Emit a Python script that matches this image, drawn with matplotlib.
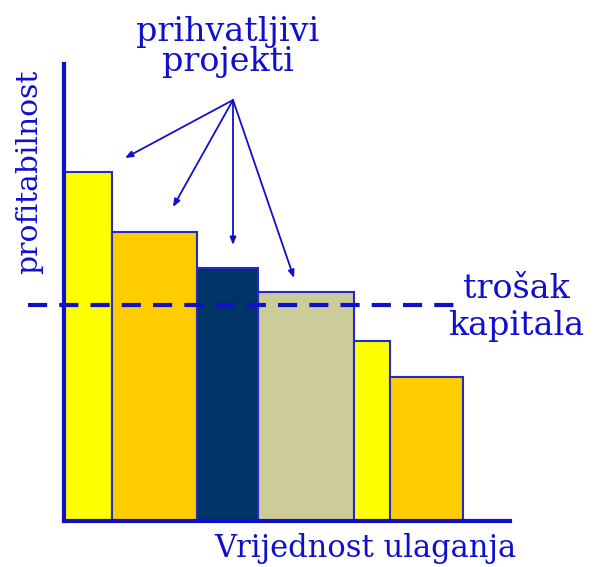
import matplotlib
matplotlib.use("Agg")
import matplotlib.pyplot as plt
import numpy as np

# data (arbitrary units)
widths = [48, 85, 61, 96, 36, 73]          # investment value of each project
profit = [349, 289, 253, 229, 180, 144]    # profitability of each project
colors = ["#FFFF00", "#FFCC00", "#003366", "#CCCC99", "#FFFF00", "#FFCC00"]
cost_of_capital = 216

W, H = 594, 567
fig = plt.figure(figsize=(W / 100, H / 100), dpi=100)
ax = fig.add_axes([64 / W, (H - 521) / H, (510 - 64) / W, (521 - 64) / H])
ax.set_xlim(0, 446)
ax.set_ylim(0, 457)

blue = "#1010CC"
lefts = np.concatenate([[0], np.cumsum(widths)[:-1]])
ax.bar(lefts, profit, width=widths, align="edge", color=colors,
       edgecolor="#2828C8", linewidth=1.5, zorder=2)

# dashed cost of capital line
ax.plot([-36, 391], [cost_of_capital, cost_of_capital], color=blue, lw=3,
        dashes=(4.6, 2.9), clip_on=False, zorder=3)

for s in ["top", "right"]:
    ax.spines[s].set_visible(False)
for s in ["left", "bottom"]:
    ax.spines[s].set_color(blue)
    ax.spines[s].set_linewidth(3)
ax.set_xticks([])
ax.set_yticks([])
ax.patch.set_alpha(0)

# arrows to accepted projects
src = (169, 421)
targets = [(61, 363), (109, 314), (169, 276), (230, 243)]
for t in targets:
    ax.annotate("", xy=t, xytext=src,
                arrowprops=dict(arrowstyle="-|>,head_length=0.45,head_width=0.18",
                                color=blue, lw=1.3, shrinkA=0, shrinkB=0),
                annotation_clip=False)

font = dict(family="DejaVu Serif", color=blue)
fig.text(228 / W, 1 - 47 / H, "prihvatljivi\nprojekti", ha="center", va="center",
         linespacing=0.95, fontsize=24, **font)
fig.text(516 / W, 1 - 307 / H, "trošak\nkapitala", ha="center", va="center",
         linespacing=1.2, fontsize=24, **font)
fig.text(365 / W, 1 - 548 / H, "Vrijednost ulaganja", ha="center", va="center",
         fontsize=22, **font)
fig.text(29 / W, 1 - 172 / H, "profitabilnost", ha="center", va="center",
         rotation=90, fontsize=21.5, **font)

fig.savefig("out.png", dpi=100)
